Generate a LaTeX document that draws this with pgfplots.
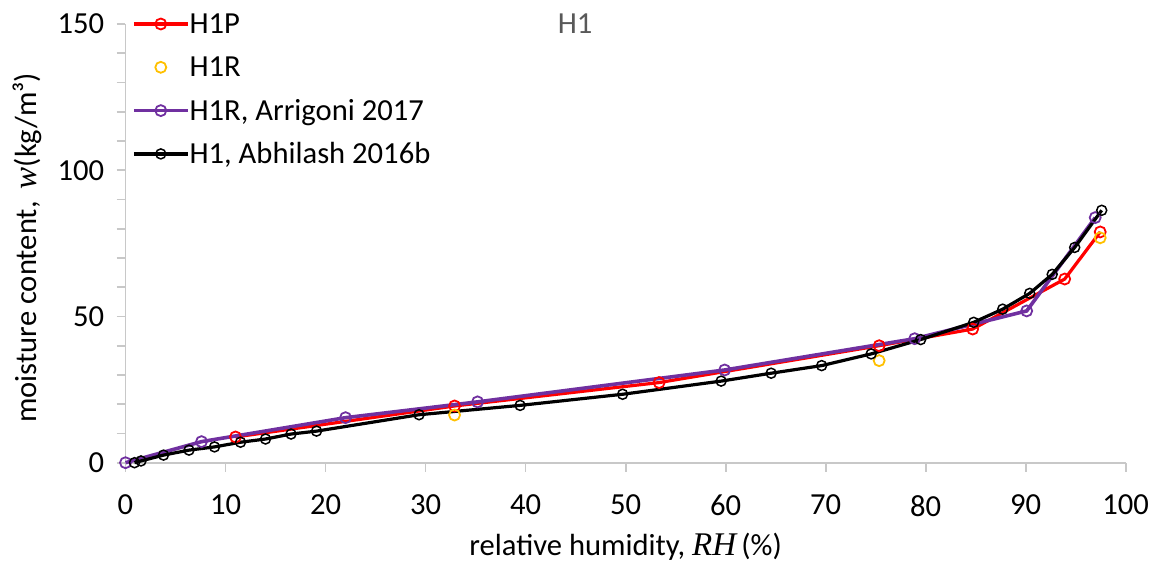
\documentclass[border=0pt]{standalone}
\usepackage{fontspec}
\setmainfont{Carlito}
\newfontfamily\serifit{Liberation Serif}[Scale=1.08]
\usepackage{pgfplots}
\pgfplotsset{compat=1.18}

\definecolor{cRed}{HTML}{FF0000}
\definecolor{cOrange}{HTML}{FFC000}
\definecolor{cPurple}{HTML}{7030A0}
\definecolor{cAxis}{HTML}{C8C8C8}
\definecolor{cTitle}{HTML}{595959}

\newcommand{\chartfont}{\fontsize{15.3}{18.4}\selectfont}

\pgfplotsset{
  legline/.style={legend image code/.code={%
    \draw[mark repeat=2,mark phase=2] plot coordinates {(0pt,0pt)(13.5pt,0pt)(27pt,0pt)};}},
  legmark/.style={legend image code/.code={%
    \draw[only marks,mark repeat=2,mark phase=2] plot coordinates {(0pt,0pt)(13.5pt,0pt)(27pt,0pt)};}},
}

\begin{document}
\chartfont
\begin{tikzpicture}
\useasboundingbox (-62.75pt,-52.65pt) rectangle (516.75pt,231.35pt);
\begin{axis}[
  at={(0,0)}, anchor=south west,
  scale only axis, width=500.1pt, height=219.35pt,
  xmin=0, xmax=100, ymin=0, ymax=150,
  clip=false,
  axis x line*=bottom, axis y line*=left,
  axis line style={cAxis, line width=0.9pt},
  tick style={cAxis, line width=0.9pt},
  tick align=outside,
  major tick length=4.5pt, minor tick length=4.5pt,
  xtick={0,10,...,100},
  ytick={0,50,100,150},
  minor y tick num=4,
  /pgf/number format/assume math mode=true,
  ticklabel style={font=\chartfont, text=black},
  xticklabel style={anchor=north, inner sep=0pt, yshift=-11.5pt},
  yticklabel style={anchor=east, inner sep=0pt, xshift=-6pt},
  xlabel={relative humidity, {\serifit\itshape RH}\,(\%)},
  label style={font=\chartfont},
  xlabel style={at={(axis description cs:0.5,0)}, anchor=center, yshift=-42pt},
  legend cell align=left,
  legend style={draw=none, fill=none, inner sep=0pt, outer sep=0pt,
    at={(rel axis cs:0,1)}, anchor=north west, xshift=3.25pt, yshift=4.8pt,
    row sep=12.05pt, column sep=0pt,
    nodes={inner sep=0pt, text height=9.6pt, text depth=0pt, font=\chartfont}},
  every axis plot/.append style={mark options={solid}},
]

% H1P
\addplot[cRed, line width=1.6pt, mark=o, mark size=2.75pt,
  mark options={line width=0.9pt}, legline] coordinates {
  (11.0,8.8) (32.9,19.4) (53.35,27.4) (75.35,40.0)
  (84.7,45.7) (93.9,62.8) (97.45,78.9)
};
\addlegendentry{H1P}

% H1R
\addplot[only marks, cOrange, mark=o, mark size=2.75pt,
  mark options={line width=0.9pt}, legmark] coordinates {
  (32.9,16.3) (75.35,34.9) (97.45,76.9)
};
\addlegendentry{H1R}

% H1R, Arrigoni 2017
\addplot[cPurple, line width=1.8pt, mark=o, mark size=2.75pt,
  mark options={line width=0.9pt}, legline] coordinates {
  (0,0) (7.6,7.2) (22.0,15.4) (35.2,20.8) (59.9,31.7)
  (78.9,42.4) (90.1,51.9) (96.95,83.8)
};
\addlegendentry{H1R, Arrigoni 2017}

% H1, Abhilash 2016b
\addplot[black, line width=1.6pt, mark=o, mark size=2.5pt,
  mark options={line width=0.75pt}, legline] coordinates {
  (0.9,0) (1.55,0.6) (3.8,2.6) (6.35,4.3) (8.9,5.4) (11.5,7.0)
  (14.0,8.1) (16.55,9.8) (19.1,10.8) (29.35,16.4) (39.45,19.6)
  (49.7,23.4) (59.55,27.9) (64.55,30.6) (69.6,33.2) (74.55,37.2)
  (79.5,42.1) (84.8,48.0) (87.7,52.5) (90.4,57.9) (92.65,64.4)
  (94.9,73.6) (97.6,86.3)
};
\addlegendentry{H1, Abhilash 2016b}

% chart title and the y-axis title
\node[text=cTitle, font=\chartfont] at (axis cs:44.95,150) {H1};
\node[rotate=90, anchor=center, font=\chartfont]
  at ([xshift=-49pt]rel axis cs:0,0.49)
  {moisture content,\, {\serifit\itshape w}(kg/m³)};
\end{axis}
\end{tikzpicture}
\end{document}
